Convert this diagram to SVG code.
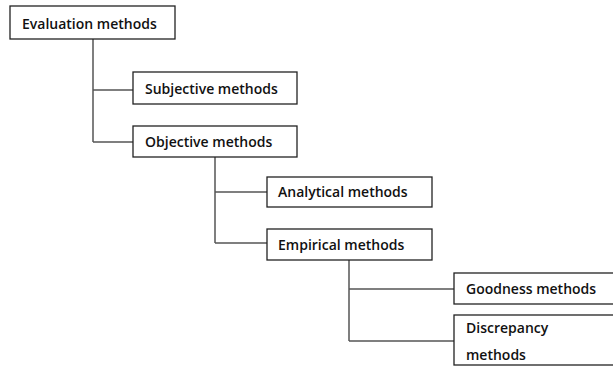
<svg xmlns="http://www.w3.org/2000/svg" width="613" height="366" viewBox="0 0 613 366">
<style>
.box{fill:#fff;stroke:#222;stroke-width:1.3}
.lbl{font-family:"Open Sans","Liberation Sans",sans-serif;font-weight:600;font-size:14px;fill:#111}
.con{fill:none;stroke:#555;stroke-width:1.5}
</style>
<rect width="613" height="366" fill="#fff"/>
<g id="connectors">
<path class="con" d="M93,39 V142 M93,90 H133 M93,142 H133"/>
<path class="con" d="M215,157 V243 M215,192 H267 M215,243 H267"/>
<path class="con" d="M349,260 V341 M349,289 H454 M349,341 H454"/>
</g>
<g id="evaluation"><rect class="box" x="10" y="6" width="165" height="33"/><text class="lbl" x="22" y="29">Evaluation methods</text></g>
<g id="subjective"><rect class="box" x="133" y="72" width="164" height="32"/><text class="lbl" x="145" y="94">Subjective methods</text></g>
<g id="objective"><rect class="box" x="133" y="126" width="164" height="31"/><text class="lbl" x="145" y="147">Objective methods</text></g>
<g id="analytical"><rect class="box" x="267" y="177" width="165" height="30"/><text class="lbl" x="278" y="197">Analytical methods</text></g>
<g id="empirical"><rect class="box" x="267" y="229" width="165" height="31"/><text class="lbl" x="278" y="250">Empirical methods</text></g>
<g id="goodness"><rect class="box" x="454" y="273" width="162" height="31"/><text class="lbl" x="466" y="294">Goodness methods</text></g>
<g id="discrepancy"><rect class="box" x="454" y="315" width="162" height="50"/><text class="lbl" x="466" y="333">Discrepancy</text><text class="lbl" x="466" y="360">methods</text></g>
</svg>
